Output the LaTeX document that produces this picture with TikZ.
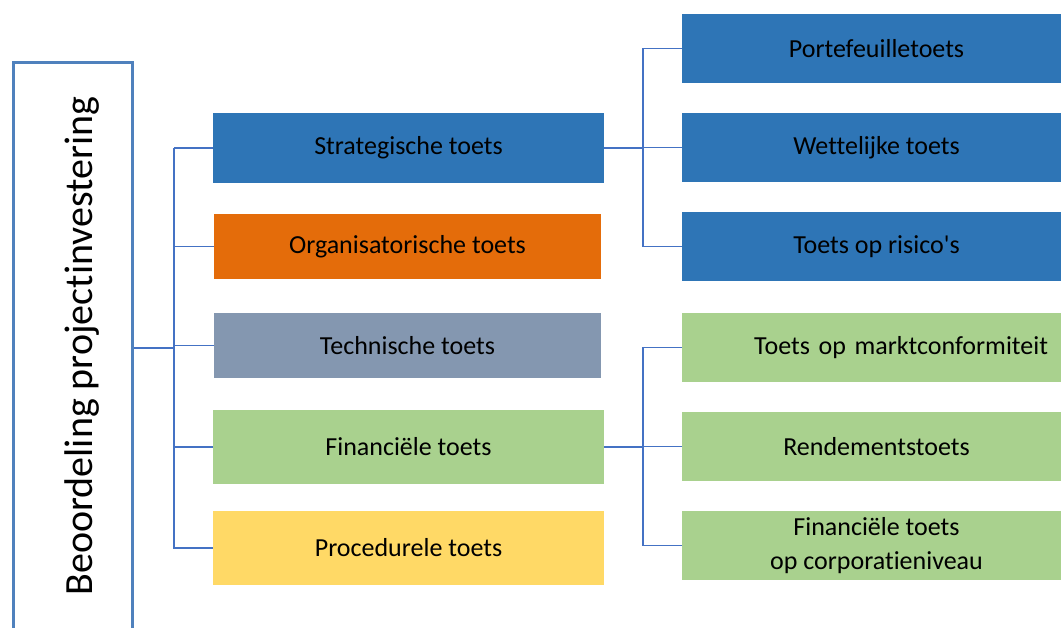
\documentclass[tikz,border=0pt]{standalone}
\usepackage{fontspec}
\setmainfont{Carlito}[Ligatures=NoCommon]
\usetikzlibrary{positioning}
\definecolor{darkblue}{HTML}{2E75B6}
\definecolor{orangetest}{HTML}{E46C0A}
\definecolor{greyblue}{HTML}{8497B0}
\definecolor{lightgreen}{HTML}{A9D18E}
\definecolor{lightyellow}{HTML}{FFD966}
\definecolor{rootline}{HTML}{4F81BD}
\definecolor{wire}{HTML}{4472C4}
\tikzset{
  testbox/.style={rectangle, inner sep=0pt, minimum width=391pt, minimum height=70pt,
    font=\fontsize{26}{31}\selectfont},
  subbox/.style={rectangle, inner sep=0pt, minimum width=389pt, minimum height=69pt,
    font=\fontsize{26}{31}\selectfont, align=center},
  wireline/.style={draw=wire, line width=1.2pt}
}
\begin{document}
\begin{tikzpicture}[x=1pt, y=-1pt]
\useasboundingbox (0,0) rectangle (1061,628);
% Root box, running off the bottom edge.
\node[draw=rootline, line width=3pt, fill=white, minimum width=119pt, minimum height=600pt,
  inner sep=0pt, anchor=north west] (root) at (12,61) {};
\node[rotate=90, font=\fontsize{40}{48}\selectfont] (roottext) at (82,346) {Beoordeling projectinvestering};
% The five tests.
\node[testbox, fill=darkblue] (strat) at (408.5,148) {Strategische toets};
\node[testbox, fill=orangetest, minimum width=387pt, minimum height=65pt] (org) at (407.5,246.5) {Organisatorische toets};
\node[testbox, fill=greyblue, minimum width=387pt, minimum height=65pt] (tech) at (407.5,345.5) {Technische toets};
\node[testbox, fill=lightgreen, minimum height=74pt] (fin) at (408.5,447) {Financiële toets};
\node[testbox, fill=lightyellow, minimum height=74pt] (proc) at (408.5,548) {Procedurele toets};
% Sub tests of the strategic test (boxes run off the right edge).
\node[subbox, fill=darkblue] (port) at (876.5,48.5) {Portefeuilletoets};
\node[subbox, fill=darkblue] (wet) at (876.5,147.5) {Wettelijke toets};
\node[subbox, fill=darkblue] (risk) at (876.5,246.5) {Toets op risico\textquotesingle s};
% Sub tests of the financial test.
\node[subbox, fill=lightgreen, inner xsep=23pt, text width=343pt, align=right] (markt) at (876.5,347.5) {Toets op marktconformiteit};
\node[subbox, fill=lightgreen] (rend) at (876.5,446.5) {Rendementstoets};
\node[subbox, fill=lightgreen, font=\fontsize{26}{34}\selectfont] (corp) at (876.5,545.5) {Financiële toets\\op corporatieniveau};
% Connectors.
\coordinate (trunk) at (174,348);
\draw[wireline] (root.east |- trunk) -- (trunk);
\foreach \n in {strat, org, tech, fin, proc}
  \draw[wireline] (trunk |- strat.west) |- (\n.west);
\draw[wireline] (trunk |- strat.west) -- (trunk |- proc.west);
\coordinate (fork1) at (643,148);
\draw[wireline] (strat.east) -- (fork1);
\foreach \n in {port, wet, risk}
  \draw[wireline] (fork1) |- (\n.west);
\coordinate (fork2) at (643,447);
\draw[wireline] (fin.east) -- (fork2);
\foreach \n in {markt, rend, corp}
  \draw[wireline] (fork2) |- (\n.west);
\end{tikzpicture}
\end{document}
